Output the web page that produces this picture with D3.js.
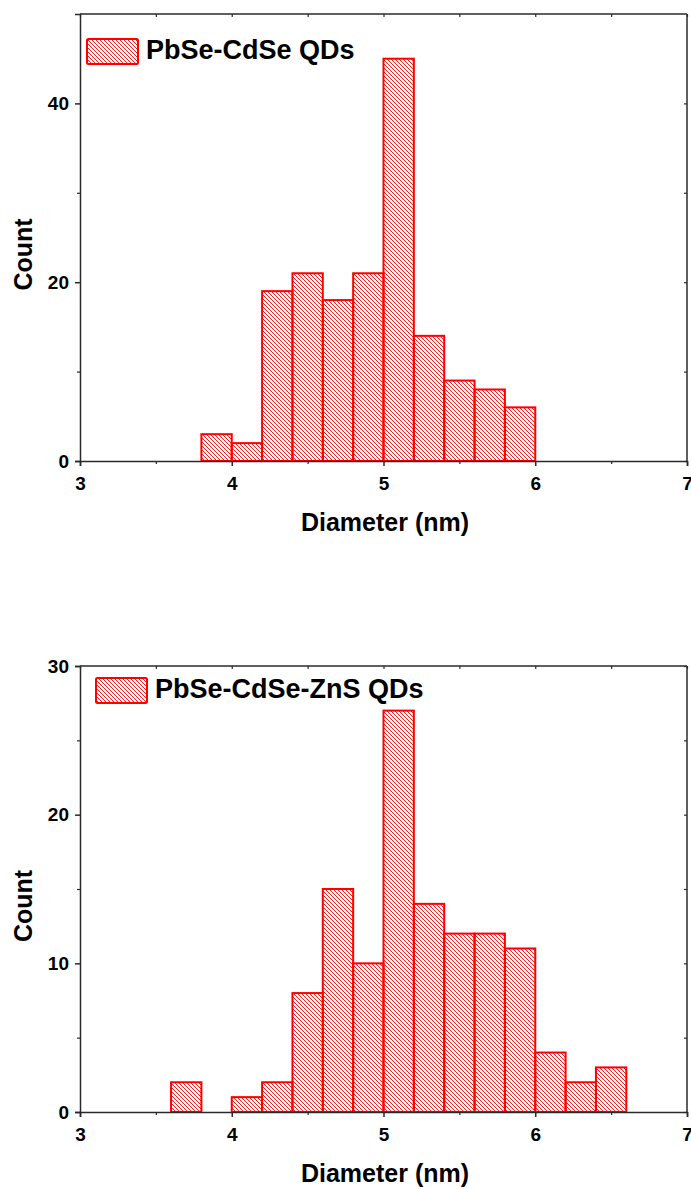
<!DOCTYPE html>
<html>
<head>
<meta charset="utf-8">
<script src="https://cdn.jsdelivr.net/npm/d3@7"></script>
<style>
  body { margin: 0; background: #fff; }
  text { font-family: "Liberation Sans", Arial, sans-serif; font-weight: bold; }
</style>
</head>
<body>
<div id="chart-area"></div>
<script>
// bin left edges (nm), bin width 0.2
var binWidth = 0.2;

var binsTop = [3.8, 4.0, 4.2, 4.4, 4.6, 4.8, 5.0, 5.2, 5.4, 5.6, 5.8];
var countsTop = [3, 2, 19, 21, 18, 21, 45, 14, 9, 8, 6];
var legendTop = "PbSe-CdSe QDs";
var yTicksTop = [0, 20, 40];
var yMinorTop = [10, 30];

var binsBottom = [3.6, 4.0, 4.2, 4.4, 4.6, 4.8, 5.0, 5.2, 5.4, 5.6, 5.8, 6.0, 6.2, 6.4];
var countsBottom = [2, 1, 2, 8, 15, 10, 27, 14, 12, 12, 11, 4, 2, 3];
var legendBottom = "PbSe-CdSe-ZnS QDs";
var yTicksBottom = [0, 10, 20, 30];
var yMinorBottom = [5, 15, 25];

var xTicks = [3, 4, 5, 6, 7];
var xMinor = [3.5, 4.5, 5.5, 6.5];

var W = 691, H = 1189;

var svg = d3.select('#chart-area')
    .append("svg")
    .attr("width", W)
    .attr("height", H);

var defs = svg.append("defs");
var pat = defs.append("pattern")
    .attr("id", "hatch")
    .attr("patternUnits", "userSpaceOnUse")
    .attr("width", 4)
    .attr("height", 4);
pat.append("path")
    .attr("d", "M-1,-1 L5,5 M-1,3 L1,5 M3,-1 L5,1")
    .attr("stroke", "#ff0000")
    .attr("stroke-width", 0.9);

function drawPanel(top, bottom, yMax, bins, counts, yTicks, yMinor, label, legendY) {
    var left = 80, right = 687;
    var x = d3.scaleLinear().domain([3, 7]).range([left, right]);
    var y = d3.scaleLinear().domain([0, yMax]).range([bottom, top]);

    var g = svg.append("g");

    // bars
    g.selectAll("rect.bar")
        .data(bins)
        .enter()
        .append("rect")
        .attr("class", "bar")
        .attr("x", d => x(d))
        .attr("y", (d, i) => y(counts[i]))
        .attr("width", d => x(d + binWidth) - x(d))
        .attr("height", (d, i) => y(0) - y(counts[i]))
        .attr("fill", "url(#hatch)")
        .attr("stroke", "#ff0000")
        .attr("stroke-width", 2);

    var axisColor = "#2a2a2a";

    // frame top / right
    g.append("line").attr("x1", left).attr("x2", right).attr("y1", top).attr("y2", top)
        .attr("stroke", axisColor).attr("stroke-width", 1.5);
    g.append("line").attr("x1", right).attr("x2", right).attr("y1", top).attr("y2", bottom)
        .attr("stroke", axisColor).attr("stroke-width", 1.5);

    // bottom axis
    var xAxis = g.append("g")
        .attr("transform", "translate(0," + bottom + ")")
        .call(d3.axisBottom(x).tickValues(xTicks).tickSize(5).tickFormat(d3.format("d")));
    xAxis.select(".domain").attr("stroke", axisColor).attr("stroke-width", 1.5);
    xAxis.selectAll(".tick line").attr("stroke", axisColor).attr("stroke-width", 1.5);
    xAxis.selectAll("text")
        .attr("fill", "#000")
        .attr("font-size", "19px")
        .attr("y", 29)
        .attr("dy", null);
    g.append("g")
        .attr("transform", "translate(0," + bottom + ")")
        .call(d3.axisBottom(x).tickValues(xMinor).tickSize(3).tickFormat(""))
        .call(s => s.select(".domain").remove())
        .selectAll("line").attr("stroke", axisColor).attr("stroke-width", 1.2);

    // top mirror ticks
    g.append("g")
        .attr("transform", "translate(0," + top + ")")
        .call(d3.axisBottom(x).tickValues(xTicks.concat(xMinor)).tickSize(3).tickFormat(""))
        .call(s => s.select(".domain").remove())
        .selectAll("line").attr("stroke", axisColor).attr("stroke-width", 1.2);

    // left axis
    var yAxis = g.append("g")
        .attr("transform", "translate(" + left + ",0)")
        .call(d3.axisLeft(y).tickValues(yTicks).tickSize(5).tickPadding(6));
    yAxis.select(".domain").attr("stroke", axisColor).attr("stroke-width", 1.5);
    yAxis.selectAll(".tick line").attr("stroke", axisColor).attr("stroke-width", 1.5);
    yAxis.selectAll("text")
        .attr("fill", "#000")
        .attr("font-size", "19px");
    g.append("g")
        .attr("transform", "translate(" + left + ",0)")
        .call(d3.axisLeft(y).tickValues(yMinor).tickSize(3).tickFormat(""))
        .call(s => s.select(".domain").remove())
        .selectAll("line").attr("stroke", axisColor).attr("stroke-width", 1.2);

    // right mirror ticks
    g.append("g")
        .attr("transform", "translate(" + right + ",0)")
        .call(d3.axisRight(y).tickValues(yTicks.concat(yMinor)).tickSize(-3).tickFormat(""))
        .call(s => s.select(".domain").remove())
        .selectAll("line").attr("stroke", axisColor).attr("stroke-width", 1.2);

    // axis titles
    g.append("text")
        .attr("x", 385)
        .attr("y", bottom + 70)
        .attr("text-anchor", "middle")
        .attr("font-size", "25px")
        .text("Diameter (nm)");

    g.append("text")
        .attr("transform", "rotate(-90)")
        .attr("x", -((top + bottom) / 2 + 17))
        .attr("y", 32)
        .attr("text-anchor", "middle")
        .attr("font-size", "25px")
        .text("Count");

    // legend
    var lx = left + 7 + (top > 100 ? 9 : 0), ly = legendY;
    g.append("rect")
        .attr("x", lx)
        .attr("y", ly)
        .attr("width", 51)
        .attr("height", 25)
        .attr("rx", 1.5)
        .attr("fill", "url(#hatch)")
        .attr("stroke", "#ff0000")
        .attr("stroke-width", 2);
    g.append("text")
        .attr("x", lx + 59)
        .attr("y", ly + 20)
        .attr("font-size", "27px")
        .text(label);
}

drawPanel(14, 461, 50, binsTop, countsTop, yTicksTop, yMinorTop, legendTop, 39);
drawPanel(666, 1112, 30, binsBottom, countsBottom, yTicksBottom, yMinorBottom, legendBottom, 678);
</script>
</body>
</html>
